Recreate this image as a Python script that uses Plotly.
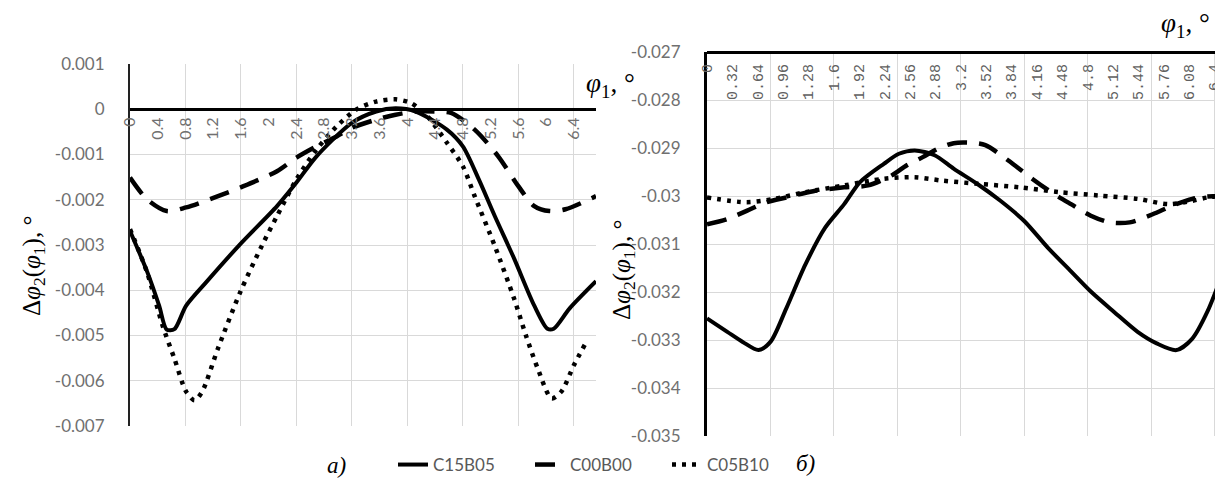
import plotly.graph_objects as go

W, H = 1223, 495

# ---------------- data: panel a) ----------------
A_C15B05_X = [0, 0.25, 0.42, 0.53, 0.64, 0.81, 1.1, 1.59, 2.12, 2.4, 2.69, 3.2, 3.55, 3.83, 4.12,
              4.57, 4.8, 5.03, 5.26, 5.54, 5.83, 6.02, 6.11, 6.34, 6.72]
A_C15B05_Y = [-0.00269, -0.0036, -0.00434, -0.00487, -0.00486, -0.00434, -0.00382, -0.00298, -0.00214,
              -0.00162, -0.00104, -0.0003, -0.00005, 0.00002, -0.00005, -0.00045, -0.00082, -0.00155,
              -0.00236, -0.0033, -0.00434, -0.00485, -0.00485, -0.0044, -0.0038]

A_C00B00_X = [0, 0.245, 0.53, 0.81, 1.27, 1.59, 2.12, 2.4, 2.69, 2.98, 3.2, 3.55, 3.83, 4.12, 4.4,
              4.63, 4.97, 5.31, 5.6, 5.83, 6.05, 6.28, 6.72]
A_C00B00_Y = [-0.00151, -0.00199, -0.00225, -0.00217, -0.00192, -0.00173, -0.00137, -0.00107, -0.00082,
              -0.0006, -0.00041, -0.00023, -0.00012, -0.00005, -0.00005, -0.00008, -0.00045, -0.00104,
              -0.0017, -0.00214, -0.00225, -0.00221, -0.00192]

A_C05B10_X = [0, 0.245, 0.47, 0.64, 0.81, 0.93, 1.04, 1.27, 1.59, 1.9, 2.12, 2.4, 2.69, 2.98, 3.26,
              3.55, 3.83, 4.06, 4.29, 4.57, 4.8, 4.97, 5.26, 5.54, 5.71, 5.88, 6.08, 6.22, 6.4, 6.56]
A_C05B10_Y = [-0.00265, -0.0036, -0.00478, -0.00551, -0.00624, -0.00643, -0.00624, -0.00528, -0.00404,
              -0.00302, -0.00236, -0.00155, -0.00089, -0.00038, -0.00001, 0.00017, 0.00022, 0.00013,
              -0.00016, -0.00074, -0.00126, -0.00192, -0.00302, -0.00419, -0.005, -0.00573, -0.00639,
              -0.00624, -0.00566, -0.0052]

A_XTICKS = [0, 0.4, 0.8, 1.2, 1.6, 2, 2.4, 2.8, 3.2, 3.6, 4, 4.4, 4.8, 5.2, 5.6, 6, 6.4]
A_XTICKTEXT = ["0", "0.4", "0.8", "1.2", "1.6", "2", "2.4", "2.8", "3.2", "3.6", "4", "4.4", "4.8",
               "5.2", "5.6", "6", "6.4"]
A_YTICKS = [0.001, 0, -0.001, -0.002, -0.003, -0.004, -0.005, -0.006, -0.007]
A_YTICKTEXT = ["0.001", "0", "-0.001", "-0.002", "-0.003", "-0.004", "-0.005", "-0.006", "-0.007"]

# ---------------- data: panel б) ----------------
B_C15B05_X = [0, 0.256, 0.45, 0.65, 0.8, 1.0, 1.24, 1.49, 1.73, 1.93, 2.23, 2.42, 2.62, 2.87, 3.11,
              3.41, 3.7, 4.0, 4.3, 4.59, 4.84, 5.13, 5.43, 5.67, 5.92, 6.12, 6.31, 6.51]
B_C15B05_Y = [-0.03255, -0.03283, -0.03304, -0.03321, -0.03304, -0.03234, -0.03143, -0.03066, -0.03017,
              -0.02971, -0.02933, -0.02912, -0.02905, -0.02915, -0.02943, -0.02975, -0.0301, -0.03052,
              -0.03108, -0.03157, -0.03199, -0.03241, -0.03283, -0.03307, -0.03321, -0.03297, -0.03241,
              -0.03157]

B_C00B00_X = [0, 0.256, 0.5, 0.75, 1.0, 1.34, 1.73, 2.03, 2.33, 2.52, 2.72, 2.92, 3.11, 3.31, 3.51,
              3.8, 4.1, 4.34, 4.59, 4.84, 5.08, 5.33, 5.62, 5.87, 6.12, 6.31, 6.51]
B_C00B00_Y = [-0.03059, -0.03048, -0.03031, -0.03013, -0.03003, -0.0299, -0.02982, -0.02978, -0.02957,
              -0.02936, -0.02919, -0.02901, -0.0289, -0.02889, -0.02894, -0.02926, -0.02964, -0.02992,
              -0.03017, -0.03041, -0.03055, -0.03055, -0.03038, -0.0302, -0.03006, -0.03001, -0.03001]

B_C05B10_X = [0, 0.5, 0.85, 1.24, 1.73, 2.23, 2.62, 2.97, 3.45, 3.95, 4.44, 4.94, 5.43, 5.82, 6.12,
              6.31, 6.51]
B_C05B10_Y = [-0.03003, -0.03013, -0.03006, -0.02992, -0.02978, -0.02964, -0.02961, -0.02968, -0.02975,
              -0.02982, -0.02992, -0.02999, -0.03006, -0.03017, -0.0301, -0.03003, -0.02999]

B_XTICKS = [0, 0.32, 0.64, 0.96, 1.28, 1.6, 1.92, 2.24, 2.56, 2.88, 3.2, 3.52, 3.84, 4.16, 4.48,
            4.8, 5.12, 5.44, 5.76, 6.08, 6.4]
B_XTICKTEXT = ["0", "0.32", "0.64", "0.96", "1.28", "1.6", "1.92", "2.24", "2.56", "2.88", "3.2",
               "3.52", "3.84", "4.16", "4.48", "4.8", "5.12", "5.44", "5.76", "6.08", "6.4"]
B_YTICKS = [-0.027, -0.028, -0.029, -0.03, -0.031, -0.032, -0.033, -0.034, -0.035]
B_YTICKTEXT = ["-0.027", "-0.028", "-0.029", "-0.03", "-0.031", "-0.032", "-0.033", "-0.034", "-0.035"]

SERIES = ["C15B05", "C00B00", "C05B10"]

# ---------------- styling ----------------
STYLE = {
    "C15B05": dict(color="black", width=4, dash="solid"),
    "C00B00": dict(color="black", width=4.5, dash="20px,12px"),
    "C05B10": dict(color="black", width=4.5, dash="4px,6px"),
}
# which x axis (of the two overlaid axes per panel) carries each series
A_AXIS = {"C15B05": "x", "C00B00": "x", "C05B10": "x3"}
B_AXIS = {"C15B05": "x2", "C00B00": "x2", "C05B10": "x4"}

GRID = "#d9d9d9"
TICKCOL = "#707070"
TICKFONT = dict(family="Lato, Liberation Sans, sans-serif", size=17, color=TICKCOL)

# the page body adds an 8px margin around the figure: convert screen pixels -> paper fractions
PAD = 8


def px(sx):
    return (sx - PAD) / W


def py(sy):
    return (H - (sy - PAD)) / H


# pixel geometry (screen coordinates of the reference)
A_X0, A_X1 = 130, 596
A_Y_TOP, A_Y_BOT = 64, 426
A_XMAX = 6.72
B_X0, B_X1 = 707, 1223
B_Y_TOP, B_Y_BOT = 52, 436
B_PX_PER_UNIT = 79.3
B_XMAX = (B_X1 - B_X0) / B_PX_PER_UNIT

a_ydom = [py(A_Y_BOT), py(A_Y_TOP)]
b_ydom = [py(B_Y_BOT), py(B_Y_TOP)]
a_yrange = [min(A_YTICKS), max(A_YTICKS)]
b_yrange = [min(B_YTICKS), max(B_YTICKS)]
a_zero_pos = a_ydom[0] + (0 - a_yrange[0]) / (a_yrange[1] - a_yrange[0]) * (a_ydom[1] - a_ydom[0])

fig = go.Figure()

a_data = {"C15B05": (A_C15B05_X, A_C15B05_Y), "C00B00": (A_C00B00_X, A_C00B00_Y),
          "C05B10": (A_C05B10_X, A_C05B10_Y)}
b_data = {"C15B05": (B_C15B05_X, B_C15B05_Y), "C00B00": (B_C00B00_X, B_C00B00_Y),
          "C05B10": (B_C05B10_X, B_C05B10_Y)}

for name in SERIES:
    x, y = a_data[name]
    fig.add_trace(go.Scatter(x=x, y=y, mode="lines", name=name, legendgroup=name,
                             line=dict(shape="spline", smoothing=0.8, **STYLE[name]),
                             xaxis=A_AXIS[name], yaxis="y", hoverinfo="skip"))
for name in SERIES:
    x, y = b_data[name]
    fig.add_trace(go.Scatter(x=x, y=y, mode="lines", name=name, legendgroup=name, showlegend=False,
                             line=dict(shape="spline", smoothing=0.8, **STYLE[name]),
                             xaxis=B_AXIS[name], yaxis="y2", hoverinfo="skip"))

fig.update_layout(
    width=W, height=H,
    margin=dict(l=0, r=0, t=0, b=0, autoexpand=False),
    paper_bgcolor="white", plot_bgcolor="white",
    showlegend=True,
    legend=dict(orientation="h", x=px(393), xanchor="left", y=py(465), yanchor="middle",
                entrywidth=92, entrywidthmode="pixels",
                font=dict(family="Lato, Liberation Sans, sans-serif", size=17, color="#595959"),
                bgcolor="rgba(0,0,0,0)", traceorder="normal"),
    # ---- panel a ----
    xaxis=dict(domain=[px(A_X0), px(A_X1)], range=[0, A_XMAX], anchor="y", automargin=False,
               showgrid=True, gridcolor=GRID, gridwidth=1, tick0=0, dtick=0.8,
               showticklabels=False, ticks="", zeroline=False, showline=False),
    xaxis3=dict(overlaying="x", anchor="free", position=a_zero_pos, range=[0, A_XMAX],
                automargin=False,
                side="bottom", tickmode="array", tickvals=A_XTICKS, ticktext=A_XTICKTEXT,
                tickangle=-90, ticks="", showgrid=False, zeroline=False, showline=False,
                tickfont=dict(family="Lato, Liberation Sans, sans-serif", size=16, color=TICKCOL),
                ticklabelstandoff=4),
    yaxis=dict(domain=a_ydom, range=a_yrange, anchor="x", automargin=False,
               tickmode="array", tickvals=A_YTICKS, ticktext=A_YTICKTEXT,
               showgrid=True, gridcolor=GRID, gridwidth=1, ticks="",
               zeroline=True, zerolinecolor="black", zerolinewidth=3,
               showline=True, linecolor="#222", linewidth=2,
               tickfont=TICKFONT, ticklabelstandoff=20),
    # ---- panel b ----
    xaxis2=dict(domain=[px(B_X0), px(B_X1)], range=[0, B_XMAX], anchor="y2", automargin=False,
                showgrid=True, gridcolor=GRID, gridwidth=1, tick0=0, dtick=0.8,
                showticklabels=False, ticks="", zeroline=False, showline=False),
    xaxis4=dict(overlaying="x2", anchor="free", position=b_ydom[1], range=[0, B_XMAX],
                automargin=False,
                side="bottom", tickmode="array", tickvals=B_XTICKS, ticktext=B_XTICKTEXT,
                tickangle=-90, ticks="", showgrid=False, zeroline=False,
                showline=True, linecolor="black", linewidth=3,
                tickfont=dict(family="Liberation Mono, DejaVu Sans Mono, monospace", size=15,
                              color="#606060"),
                ticklabelstandoff=4),
    yaxis2=dict(domain=b_ydom, range=b_yrange, anchor="x2", automargin=False,
                tickmode="array", tickvals=B_YTICKS, ticktext=B_YTICKTEXT,
                showgrid=True, gridcolor=GRID, gridwidth=1, ticks="", zeroline=False,
                showline=True, linecolor="black", linewidth=3,
                tickfont=TICKFONT, ticklabelstandoff=20),
)

SERIF = "Liberation Serif, DejaVu Serif, serif"
YTITLE = "Δ<i>φ</i><sub>2</sub>(<i>φ</i><sub>1</sub>), °"
XTITLE = "<i>φ</i><sub>1</sub>, °"
annots = [
    dict(x=px(33), y=py(266), text=YTITLE, textangle=-90, font=dict(family=SERIF, size=25, color="black")),
    dict(x=px(623), y=py(270), text=YTITLE, textangle=-90, font=dict(family=SERIF, size=25, color="black")),
    dict(x=px(610), y=py(85), text=XTITLE, font=dict(family=SERIF, size=27, color="black")),
    dict(x=px(1185), y=py(25), text=XTITLE, font=dict(family=SERIF, size=27, color="black")),
    dict(x=px(336), y=py(465), text="<i>а)</i>", font=dict(family=SERIF, size=23, color="black")),
    dict(x=px(805), y=py(463), text="<i>б)</i>", font=dict(family=SERIF, size=23, color="black")),
]
for a in annots:
    a.update(xref="paper", yref="paper", showarrow=False, xanchor="center", yanchor="middle")
fig.update_layout(annotations=annots)

fig.write_html("out.html")
